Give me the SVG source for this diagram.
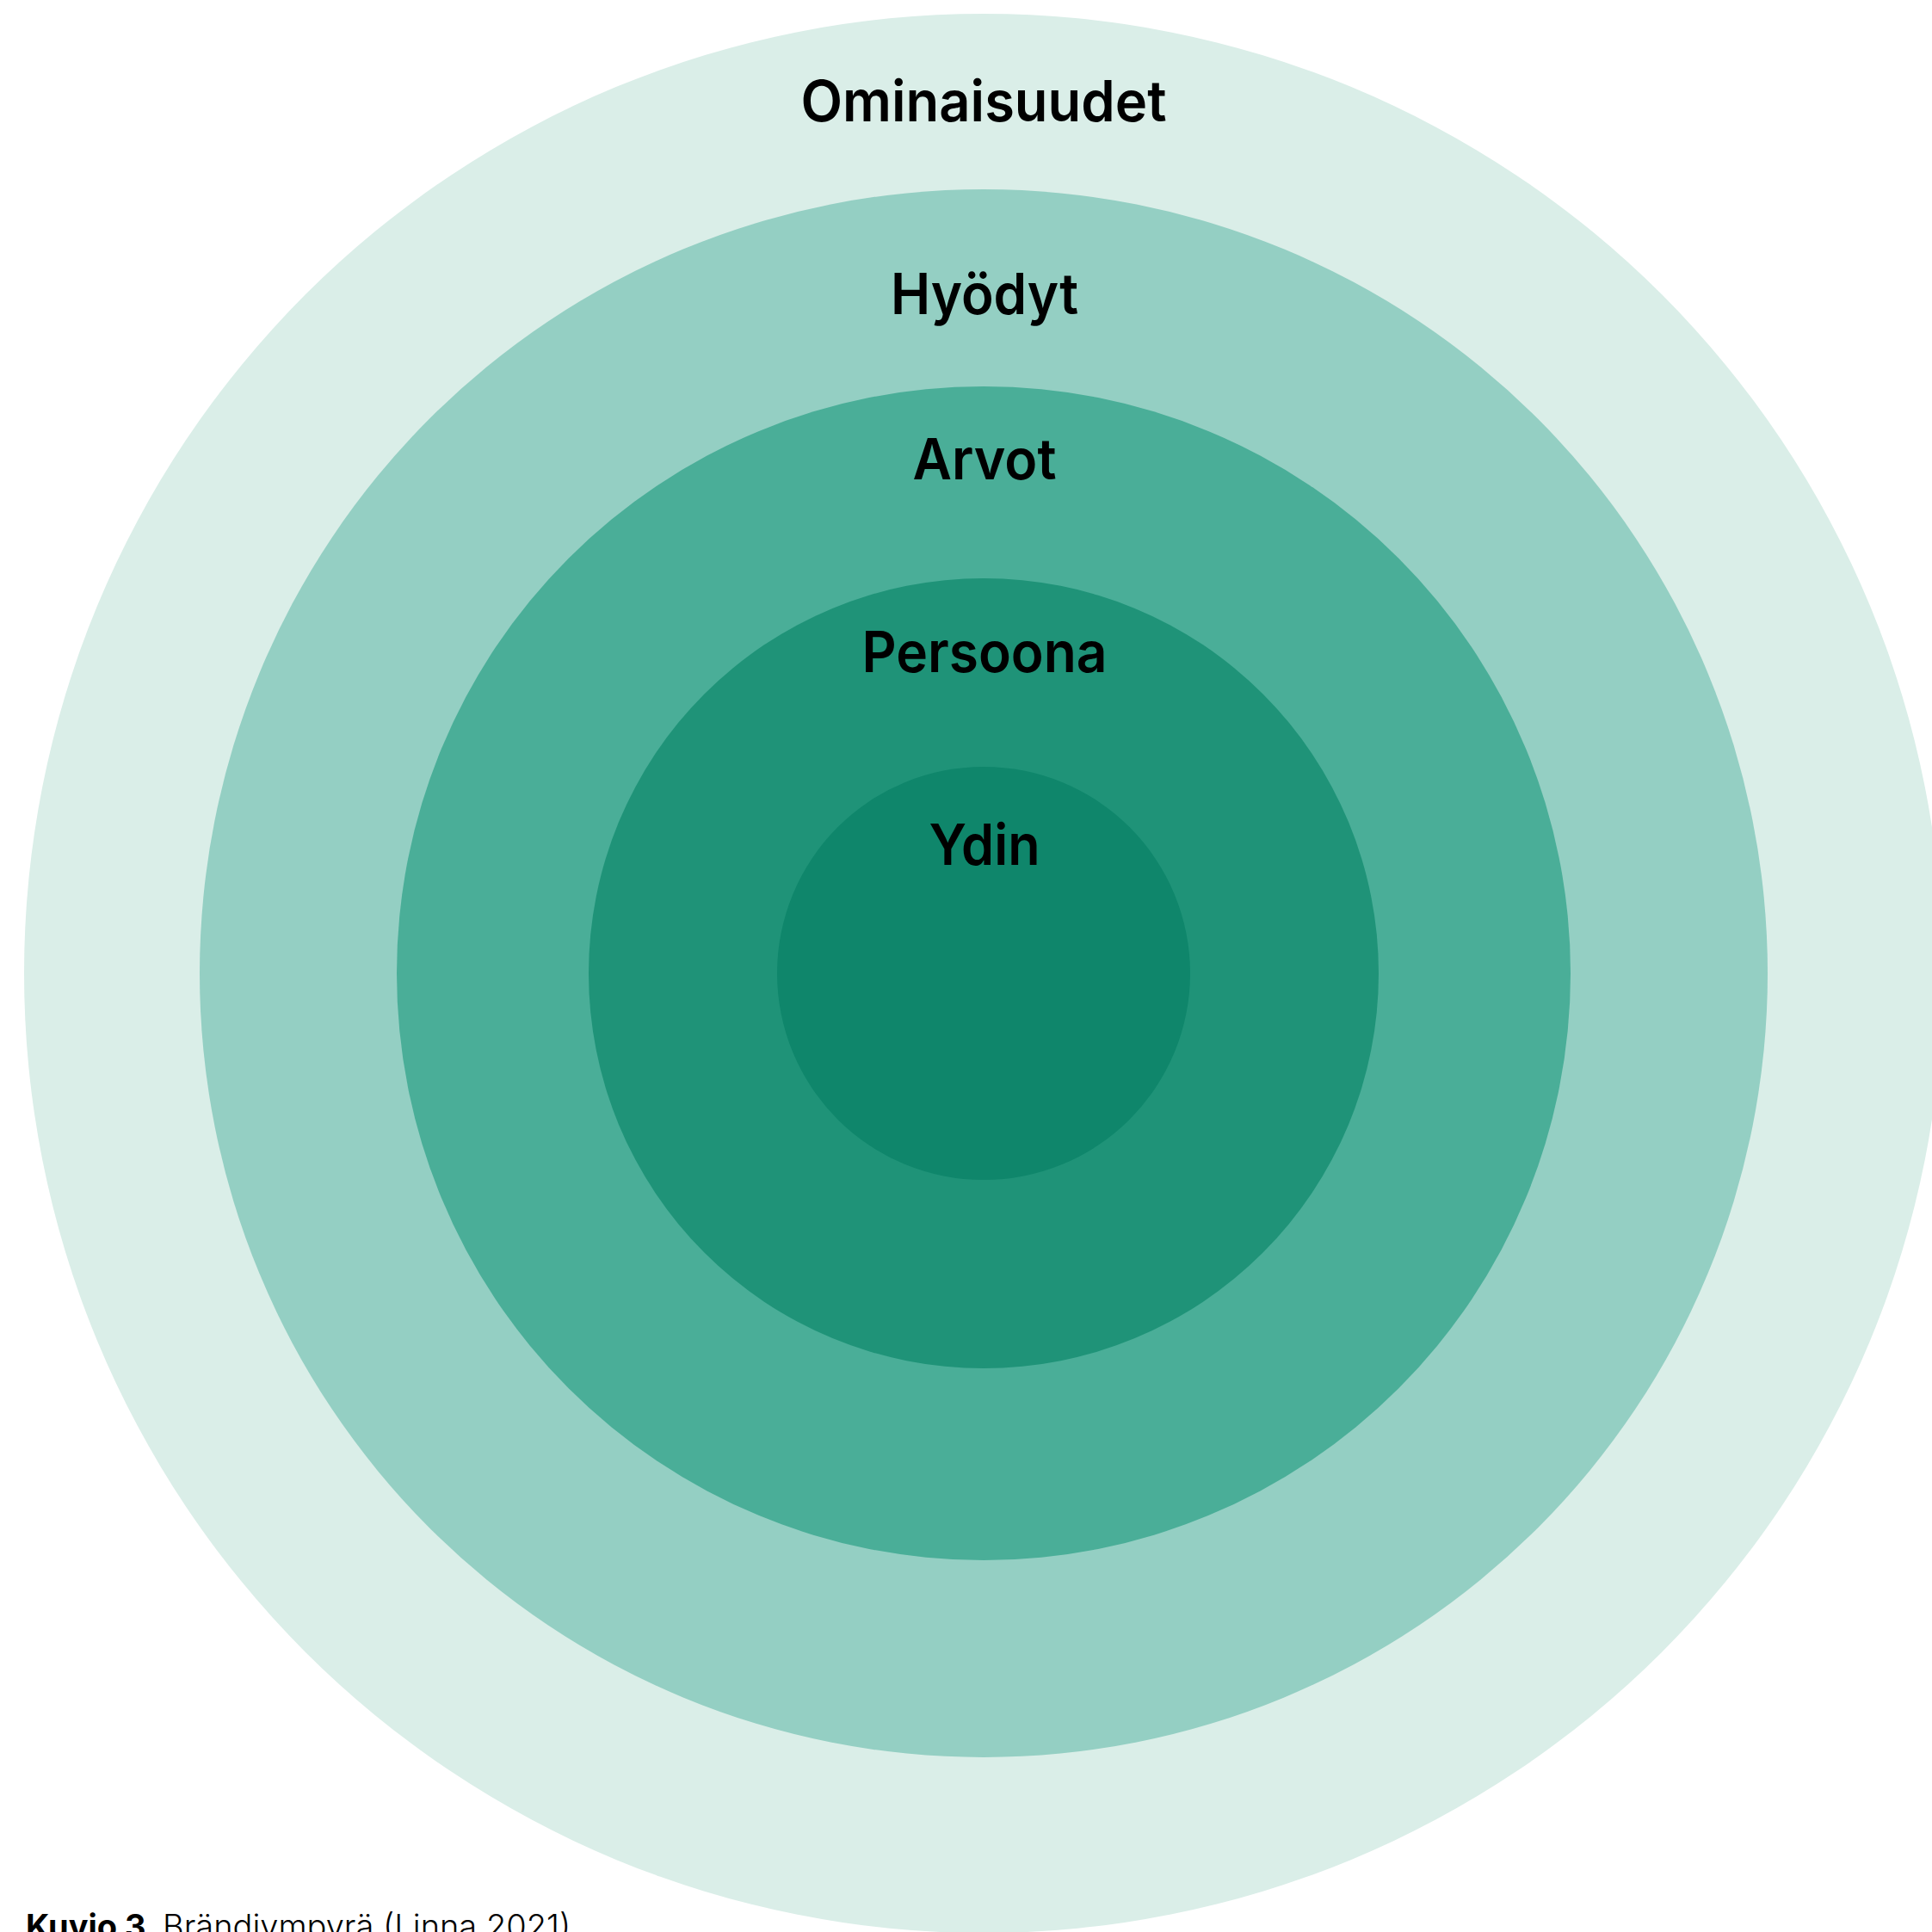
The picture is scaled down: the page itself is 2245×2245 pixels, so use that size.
<svg xmlns="http://www.w3.org/2000/svg" width="2245" height="2245" viewBox="0 0 2245 2245">
  <style>
    .ring-label { font-family: Inter, "Noto Sans", "Liberation Sans", sans-serif; font-weight: 600; font-size: 66px; fill: #000000; text-anchor: middle; }
    .caption { font-family: Inter, "Noto Sans", "Liberation Sans", sans-serif; font-size: 38px; fill: #000000; }
    .caption-bold { font-weight: 700; }
    .caption-light { font-weight: 300; }
  </style>
  <rect x="0" y="0" width="2245" height="2245" fill="#ffffff"/>

  <!-- Concentric brand rings, outermost first -->
  <g id="ominaisuudet">
    <circle cx="1143" cy="1131" r="1115" fill="#DAEEE8"/>
    <text class="ring-label" x="1143" y="141" textLength="425" lengthAdjust="spacingAndGlyphs">Ominaisuudet</text>
  </g>
  <g id="hyodyt">
    <circle cx="1143" cy="1131" r="911" fill="#94CFC3"/>
    <text class="ring-label" x="1144" y="365" textLength="218" lengthAdjust="spacingAndGlyphs">Hyödyt</text>
  </g>
  <g id="arvot">
    <circle cx="1143" cy="1131" r="682" fill="#4AAE98"/>
    <text class="ring-label" x="1144" y="557" textLength="167" lengthAdjust="spacingAndGlyphs">Arvot</text>
  </g>
  <g id="persoona">
    <circle cx="1143" cy="1131" r="459" fill="#1F9378"/>
    <text class="ring-label" x="1144" y="781" textLength="285" lengthAdjust="spacingAndGlyphs">Persoona</text>
  </g>
  <g id="ydin">
    <circle cx="1143" cy="1131" r="240" fill="#0F866B"/>
    <text class="ring-label" x="1144" y="1005" textLength="129" lengthAdjust="spacingAndGlyphs">Ydin</text>
  </g>

  <!-- Figure caption, partly below the lower edge -->
  <text class="caption" x="30" y="2252"><tspan class="caption-bold">Kuvio 3.</tspan><tspan class="caption-light" x="189">Brändiympyrä (Linna 2021)</tspan></text>
</svg>
